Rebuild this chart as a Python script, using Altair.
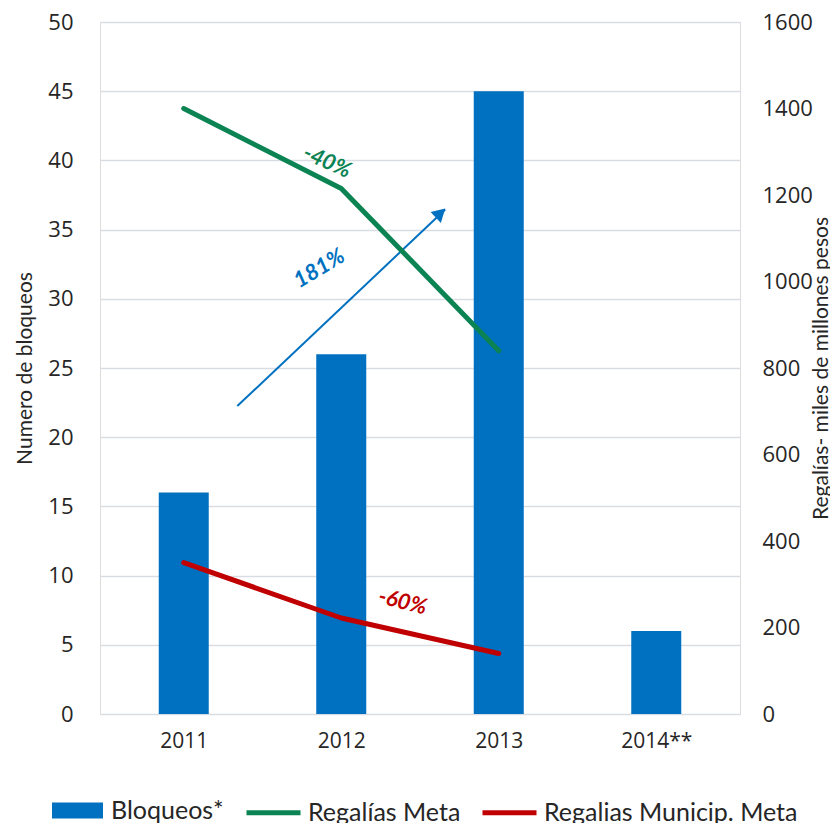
import altair as alt
import pandas as pd

# ---- data ----
years = [2011, 2012, 2013, 2014]
year_labels = ["2011", "2012", "2013", "2014**"]
bloqueos = [16, 26, 45, 6]

line_years = [2011, 2012, 2013]
regalias_meta = [1400, 1215, 840]
regalias_municip = [350, 222, 140]

series_names = ["Bloqueos*", "Regalías Meta", "Regalias Municip. Meta"]
series_colors = ["#0070c0", "#0b8353", "#c00000"]

left_ticks = list(range(0, 51, 5))
right_ticks = list(range(0, 1601, 200))

# annotation arrow (x in years, y on the left axis)
arrow_x = [2011.34, 2012.66]
arrow_y = [22.25, 36.45]
head_x = [2012.63]
head_y = [36.2]
head_angle = [47]

notes_text = ["-40%", "181%", "-60%"]
notes_x = [2011.91, 2011.86, 2012.39]
notes_y = [39.9, 32.2, 8.1]
notes_angle = [24, 329, 14]
notes_color = ["#0b8353", "#0070c0", "#c00000"]

# ---- tables ----
df_bar = pd.DataFrame({"year": years, "value": bloqueos, "serie": series_names[0]})
df_lines = pd.concat([
    pd.DataFrame({"year": line_years, "value": regalias_meta, "serie": series_names[1]}),
    pd.DataFrame({"year": line_years, "value": regalias_municip, "serie": series_names[2]}),
])
df_arrow = pd.DataFrame({"year": arrow_x, "value": arrow_y})
df_head = pd.DataFrame({"year": head_x, "value": head_y, "angle": head_angle})
df_notes = pd.DataFrame({"year": notes_x, "value": notes_y, "angle": notes_angle,
                         "txt": notes_text, "c": notes_color})

label_expr = "[" + ",".join("'%s'" % l for l in year_labels) + "][datum.value - %d]" % years[0]

TXT = "#262626"
x_enc = alt.X("year:Q",
              scale=alt.Scale(domain=[2010.5, 2014.5], zero=False, nice=False),
              axis=alt.Axis(values=years, labelExpr=label_expr, grid=False, domain=False,
                            ticks=False, labelFontSize=21, labelFont="Open Sans",
                            labelColor=TXT, labelPadding=16, title=None))
y_left = alt.Y("value:Q", scale=alt.Scale(domain=[0, 50], nice=False),
               axis=alt.Axis(orient="left", values=left_ticks, domain=False, ticks=False,
                             grid=True, gridColor="#d9dde3", gridWidth=1.3, format="d",
                             labelFontSize=22, labelFont="Open Sans", labelColor=TXT,
                             labelPadding=27, title="Numero de bloqueos",
                             titleFont="Lato", titleFontSize=21, titleFontWeight="normal",
                             titleColor=TXT, titleAngle=270, titleX=-75, titleY=346,
                             titleAlign="center", titleBaseline="middle"))

bars = alt.Chart(df_bar).mark_bar(size=50).encode(
    x=x_enc,
    y=y_left,
    color=alt.Color("serie:N",
                    scale=alt.Scale(domain=[series_names[0]], range=[series_colors[0]]),
                    legend=alt.Legend(orient="none", legendX=-48, legendY=763,
                                      direction="horizontal", title=None,
                                      symbolType="M-1,-0.31H1V0.31H-1Z", symbolSize=2601,
                                      symbolStrokeWidth=0, labelOffset=8,
                                      labelFontSize=25, labelFont="Lato",
                                      labelColor=TXT, labelLimit=0)),
)

arrow = alt.Chart(df_arrow).mark_line(color="#0070c0", strokeWidth=2).encode(
    x=x_enc, y=y_left)

head = alt.Chart(df_head).mark_point(shape="triangle-up", size=225, filled=True,
                                     color="#0070c0", opacity=1).encode(
    x=x_enc, y=y_left, angle=alt.Angle("angle:Q", scale=None))

notes = alt.Chart(df_notes).mark_text(font="Lato", fontSize=22, fontWeight="bold",
                                      fontStyle="italic").encode(
    x=x_enc, y=y_left,
    text="txt:N",
    angle=alt.Angle("angle:Q", scale=None),
    fill=alt.Fill("c:N", scale=None))

left = alt.layer(bars, arrow, head, notes)

lines = alt.Chart(df_lines).mark_line(strokeWidth=5, strokeCap="round", strokeJoin="round").encode(
    x=x_enc,
    y=alt.Y("value:Q", scale=alt.Scale(domain=[0, 1600], nice=False),
            axis=alt.Axis(orient="right", values=right_ticks, domain=False, ticks=False,
                          grid=False, format="d", labelFontSize=22, labelFont="Open Sans",
                          labelColor=TXT, labelPadding=22,
                          title="Regalías- miles de millones pesos",
                          titleFont="Lato", titleFontSize=21, titleFontWeight="normal",
                          titleColor=TXT, titleAngle=270, titleX=81, titleY=346,
                          titleAlign="center", titleBaseline="middle")),
    color=alt.Color("serie:N",
                    scale=alt.Scale(domain=series_names[1:], range=series_colors[1:]),
                    legend=alt.Legend(orient="none", legendX=144, legendY=761,
                                      direction="horizontal", title=None,
                                      symbolType="stroke", symbolSize=2916,
                                      symbolStrokeWidth=5, labelOffset=5,
                                      columnPadding=11, labelFontSize=25,
                                      labelFont="Lato", labelColor=TXT, labelLimit=0)),
)

chart = alt.layer(left, lines).resolve_scale(y="independent", color="independent").properties(
    width=640, height=692,
    autosize=alt.AutoSizeParams(type="none"),
    padding={"left": 92, "top": 14, "right": 90, "bottom": 109},
).configure_view(strokeWidth=0).configure_legend(symbolStrokeWidth=5).configure(background="white")

chart.save("out.html", embed_options={"renderer": "svg", "actions": False})
